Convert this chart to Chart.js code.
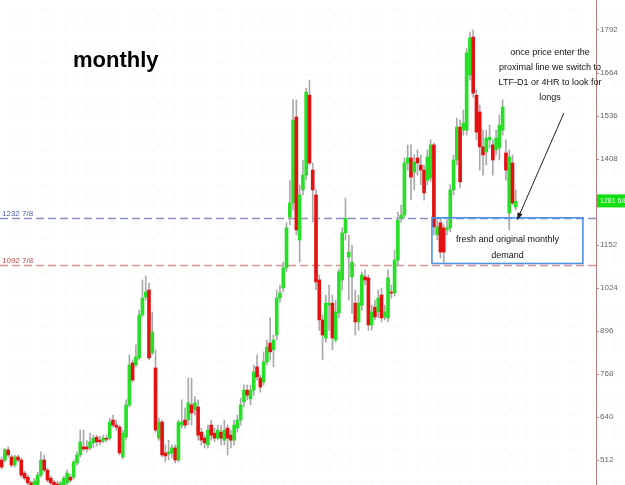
<!DOCTYPE html>
<html>
<head>
<meta charset="utf-8">
<script src="https://cdn.jsdelivr.net/npm/chart.js@4.4.1/dist/chart.umd.min.js"></script>
<style>
    html, body { margin: 0; padding: 0; background: #fff; }
    #wrap {
        width: 625px; height: 485px; position: relative;
        background-color: #fff;
        background-image: radial-gradient(rgba(230, 170, 170, 0.35) 0.7px, transparent 1px);
        background-size: 11px 11px;
        background-position: 4px 3px;
    }
</style>
</head>
<body>
<div id="wrap"><canvas id="monthlyChart" width="625" height="485"></canvas></div>
<script>
// Monthly candles, oldest first
const opens = [512, 512, 542, 521, 497, 521, 512, 473, 461, 444, 435, 438, 467, 512, 482, 458, 446, 441, 432, 438,
    444, 461, 461, 503, 527, 551, 551, 548, 563, 580, 571, 569, 577, 577, 631, 616, 610, 521, 580, 676,
    801, 795, 816, 944, 997, 1018, 831, 786, 577, 625, 533, 530, 533, 548, 512, 616, 631, 631, 676, 661,
    670, 595, 577, 557, 616, 592, 577, 595, 571, 607, 586, 571, 607, 631, 685, 720, 694, 720, 789, 756,
    744, 804, 860, 840, 884, 994, 1024, 1084, 1235, 1277, 1533, 1167, 1316, 1360, 1598, 1375, 1301, 1048, 929, 875,
    973, 979, 869, 950, 1048, 1188, 1116, 1057, 979, 923, 973, 1057, 1054, 914, 967, 953, 1003, 938, 935, 1012,
    1009, 1107, 1232, 1241, 1396, 1411, 1369, 1411, 1390, 1375, 1345, 1351, 1450, 1182, 1218, 1203, 1197, 1203, 1316, 1405,
    1503, 1494, 1494, 1658, 1771, 1598, 1548, 1444, 1429, 1465, 1450, 1435, 1441, 1494, 1426, 1247, 1396, 1265];
const highs = [521, 547, 551, 527, 527, 527, 518, 479, 467, 449, 458, 476, 536, 527, 488, 464, 452, 449, 449, 464,
    482, 470, 512, 536, 601, 601, 571, 592, 586, 586, 583, 586, 586, 637, 646, 631, 616, 601, 691, 825,
    810, 855, 958, 1048, 1060, 1039, 953, 840, 637, 631, 557, 571, 557, 557, 631, 691, 667, 756, 756, 700,
    691, 607, 586, 616, 631, 607, 616, 616, 631, 616, 601, 631, 646, 697, 735, 735, 735, 795, 825, 765,
    834, 869, 935, 884, 1018, 1033, 1101, 1218, 1345, 1584, 1584, 1331, 1405, 1619, 1643, 1396, 1316, 1063, 944, 1003,
    1033, 1003, 988, 1081, 1203, 1292, 1182, 1152, 1018, 1003, 1072, 1078, 1063, 973, 988, 1018, 1024, 973, 1078, 1033,
    1137, 1250, 1271, 1411, 1450, 1450, 1420, 1435, 1420, 1390, 1435, 1465, 1456, 1226, 1232, 1212, 1226, 1331, 1420, 1530,
    1524, 1554, 1738, 1786, 1792, 1613, 1569, 1494, 1494, 1509, 1465, 1494, 1539, 1584, 1465, 1435, 1420, 1316];
const lows = [485, 506, 521, 491, 491, 506, 461, 452, 438, 426, 429, 435, 461, 476, 446, 438, 432, 426, 426, 432,
    438, 446, 455, 497, 521, 539, 536, 542, 548, 554, 557, 563, 566, 571, 610, 601, 527, 515, 571, 670,
    744, 789, 810, 938, 988, 810, 825, 595, 571, 521, 506, 512, 518, 503, 506, 607, 607, 616, 616, 646,
    571, 557, 548, 548, 571, 566, 571, 557, 557, 527, 548, 557, 595, 616, 670, 691, 676, 705, 750, 714,
    735, 795, 810, 789, 869, 982, 1012, 1072, 1212, 1256, 1182, 1101, 1301, 1345, 1390, 1220, 1018, 898, 810, 863,
    898, 840, 863, 935, 1018, 1167, 988, 948, 884, 898, 958, 1033, 898, 898, 929, 935, 923, 929, 923, 994,
    1000, 1092, 1220, 1232, 1375, 1286, 1316, 1360, 1331, 1286, 1331, 1340, 1182, 1167, 1113, 1101, 1182, 1191, 1301, 1390,
    1322, 1479, 1479, 1643, 1592, 1465, 1375, 1360, 1390, 1441, 1360, 1420, 1405, 1479, 1345, 1197, 1271, 1256];
const closes = [491, 542, 527, 497, 521, 512, 467, 458, 444, 432, 449, 467, 512, 482, 452, 444, 438, 435, 444, 458,
    473, 452, 506, 527, 566, 545, 545, 566, 577, 566, 566, 577, 574, 625, 616, 610, 533, 592, 676, 795,
    750, 819, 944, 994, 1012, 816, 893, 601, 625, 527, 524, 536, 548, 512, 625, 625, 616, 682, 652, 682,
    586, 571, 563, 601, 586, 577, 601, 577, 601, 577, 571, 616, 631, 676, 720, 705, 720, 774, 759, 729,
    804, 848, 834, 869, 994, 1009, 1084, 1203, 1277, 1524, 1197, 1301, 1360, 1607, 1396, 1316, 1042, 929, 884, 979,
    979, 875, 953, 1072, 1188, 1232, 1131, 1101, 923, 979, 1063, 1048, 914, 953, 938, 994, 935, 953, 1054, 1009,
    1107, 1226, 1241, 1396, 1411, 1354, 1399, 1396, 1375, 1307, 1414, 1450, 1206, 1206, 1131, 1131, 1203, 1316, 1405, 1503,
    1340, 1515, 1724, 1768, 1604, 1488, 1444, 1420, 1470, 1473, 1405, 1470, 1509, 1563, 1375, 1414, 1277, 1282];

// chart has empty room on the right of the last candle
const slotCount = 182;
const months = Array.from({ length: slotCount }, (_, i) => 'M' + (i + 1));

const yTicks = [512, 640, 768, 896, 1024, 1152, 1280, 1408, 1536, 1664, 1792];
const yMin = 437.6;
const yMax = 1881.3;

// horizontal levels and the demand zone
const proximalLevel = 1232.875;
const distalLevel = 1092.875;
const zoneTop = 1232.875;
const zoneBottom = 1097;
const zoneFrom = 131.4;
const zoneTo = 177.5;
const lastPrice = 1281.75;

// arrow from the note down to the zone (category index, price)
const arrowFrom = [171.7, 1545];
const arrowTo = [157.4, 1226];

const noteLines = ['once price enter the', 'proximal line we switch to', 'LTF-D1 or 4HR to look for', 'longs'];
const zoneLines = ['fresh and original monthly', 'demand'];

const GREEN = '#27df27';
const RED = '#e31212';

const bodies = opens.map((o, i) => [o, closes[i]]);
const wicks = lows.map((l, i) => [l, highs[i]]);
const bodyColors = opens.map((o, i) => closes[i] >= o ? GREEN : RED);

const noteFont = '9px "Liberation Sans", Arial, sans-serif';

const overlayPlugin = {
    id: 'overlay',
    beforeDatasetsDraw(chart) {
        const { ctx, chartArea, scales } = chart;
        const levels = [
            { v: proximalLevel, line: '#8d90c2', text: '#4d5fb0', label: '1232 7/8' },
            { v: distalLevel, line: '#d99393', text: '#c74b4b', label: '1092 7/8' }
        ];
        ctx.save();
        levels.forEach(l => {
            const y = Math.round(scales.y.getPixelForValue(l.v)) + 0.5;
            ctx.strokeStyle = l.line;
            ctx.lineWidth = 1.3;
            ctx.setLineDash([8, 4]);
            ctx.beginPath();
            ctx.moveTo(chartArea.left, y);
            ctx.lineTo(chartArea.right, y);
            ctx.stroke();
            ctx.setLineDash([]);
            ctx.fillStyle = l.text;
            ctx.font = '8px "Liberation Sans", Arial, sans-serif';
            ctx.textAlign = 'left';
            ctx.textBaseline = 'bottom';
            ctx.fillText(l.label, 2, y - 1);
        });
        ctx.restore();
    },
    afterDatasetsDraw(chart) {
        const { ctx, scales } = chart;
        const x = scales.x, y = scales.y;
        ctx.save();

        // demand zone
        const zx1 = x.getPixelForValue(zoneFrom);
        const zx2 = x.getPixelForValue(zoneTo);
        const zy1 = y.getPixelForValue(zoneTop);
        const zy2 = y.getPixelForValue(zoneBottom);
        ctx.strokeStyle = '#4b93e6';
        ctx.lineWidth = 1.6;
        ctx.strokeRect(zx1, zy1, zx2 - zx1, zy2 - zy1);

        ctx.fillStyle = '#111';
        ctx.font = noteFont;
        ctx.textAlign = 'center';
        ctx.textBaseline = 'middle';
        const zc = (zx1 + zx2) / 2;
        ctx.fillText(zoneLines[0], zc, zy1 + 22);
        ctx.fillText(zoneLines[1], zc, zy1 + 38);

        // note top right
        noteLines.forEach((t, i) => ctx.fillText(t, 550, 53 + i * 15));

        // arrow
        const ax1 = x.getPixelForValue(arrowFrom[0]), ay1 = y.getPixelForValue(arrowFrom[1]);
        const ax2 = x.getPixelForValue(arrowTo[0]), ay2 = y.getPixelForValue(arrowTo[1]);
        const ang = Math.atan2(ay2 - ay1, ax2 - ax1);
        ctx.strokeStyle = '#222';
        ctx.fillStyle = '#222';
        ctx.lineWidth = 1;
        ctx.beginPath();
        ctx.moveTo(ax1, ay1);
        ctx.lineTo(ax2 - 5 * Math.cos(ang), ay2 - 5 * Math.sin(ang));
        ctx.stroke();
        ctx.beginPath();
        ctx.moveTo(ax2, ay2);
        ctx.lineTo(ax2 - 8 * Math.cos(ang - 0.35), ay2 - 8 * Math.sin(ang - 0.35));
        ctx.lineTo(ax2 - 8 * Math.cos(ang + 0.35), ay2 - 8 * Math.sin(ang + 0.35));
        ctx.closePath();
        ctx.fill();

        // title
        ctx.font = 'bold 22px "Liberation Sans", Arial, sans-serif';
        ctx.textAlign = 'left';
        ctx.textBaseline = 'alphabetic';
        ctx.fillStyle = '#000';
        ctx.fillText('monthly', 73, 67);

        ctx.restore();
    },
    afterDraw(chart) {
        const { ctx, chartArea, scales } = chart;
        const py = scales.y.getPixelForValue(lastPrice);
        ctx.save();
        ctx.fillStyle = '#10e010';
        ctx.fillRect(chartArea.right + 1, py - 7, chart.width - chartArea.right - 1, 13);
        ctx.fillStyle = '#e8ffe8';
        ctx.font = '7px "Liberation Sans", Arial, sans-serif';
        ctx.textAlign = 'left';
        ctx.textBaseline = 'middle';
        ctx.fillText('1281 6/8', chartArea.right + 4, py);
        ctx.restore();
    }
};

document.addEventListener('DOMContentLoaded', function() {
    const ctx = document.getElementById('monthlyChart');

    new Chart(ctx, {
        type: 'bar',
        data: {
            labels: months,
            datasets: [
                {
                    label: 'Body',
                    data: bodies,
                    backgroundColor: bodyColors,
                    barThickness: 3,
                    minBarLength: 1,
                    grouped: false,
                    order: 0
                },
                {
                    label: 'Wick',
                    data: wicks,
                    backgroundColor: '#a9a9a9',
                    barThickness: 1,
                    grouped: false,
                    order: 1
                }
            ]
        },
        options: {
            responsive: false,
            animation: false,
            devicePixelRatio: 1,
            layout: { padding: 0 },
            plugins: {
                legend: { display: false },
                tooltip: { enabled: false }
            },
            scales: {
                x: {
                    display: false,
                    offset: true
                },
                y: {
                    position: 'right',
                    min: yMin,
                    max: yMax,
                    afterBuildTicks: (scale) => {
                        scale.ticks = yTicks.map(v => ({ value: v }));
                    },
                    afterFit: (scale) => {
                        scale.width = 29;
                        scale.paddingTop = 0;
                        scale.paddingBottom = 0;
                    },
                    ticks: {
                        autoSkip: false,
                        padding: 1,
                        color: '#666',
                        font: { size: 8, family: '"Liberation Sans", Arial, sans-serif' },
                        callback: (value) => String(value)
                    },
                    grid: {
                        drawOnChartArea: false,
                        drawTicks: true,
                        tickLength: 3,
                        color: '#c58585'
                    },
                    border: { color: '#c27a7a', width: 1 }
                }
            }
        },
        plugins: [overlayPlugin]
    });
});
</script>
</body>
</html>
